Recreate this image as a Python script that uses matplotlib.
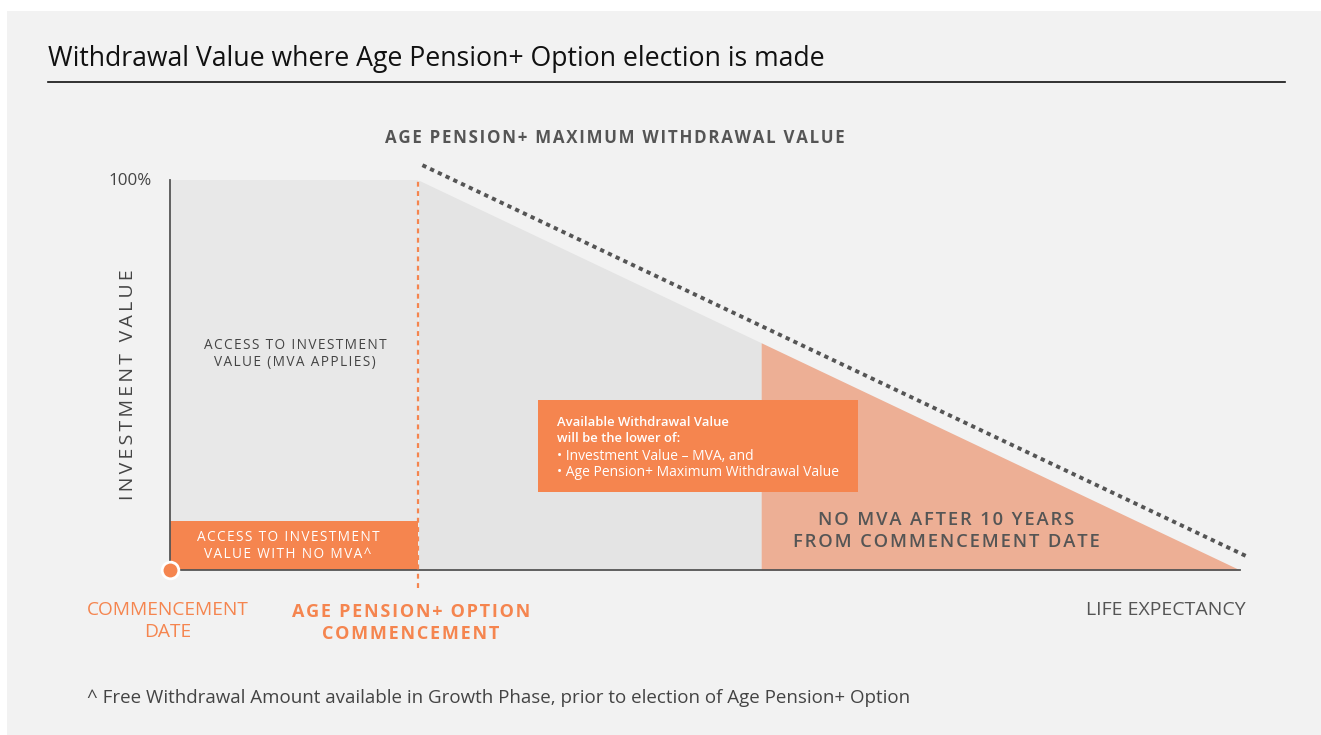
"""
Withdrawal Value where Age Pension+ Option election is made -- schematic chart.
"""

import matplotlib

matplotlib.use("Agg")
import matplotlib.pyplot as plt
from matplotlib.patches import Rectangle

plt.rcParams["font.family"] = ["Open Sans", "DejaVu Sans"]

W, H = 1321, 735

# time axis (years from commencement date)
COMMENCEMENT = 0.0
OPTION_START = 4.2
NO_MVA_FROM = 10.0
LIFE_EXPECTANCY = 18.1

# investment value (% of starting value)
VALUE_MAX = 100.0
NO_MVA_BAND = 12.6

# age pension+ maximum withdrawal value (dotted line)
MAX_WD_X = [4.27, 18.2]
MAX_WD_Y = [103.8, 3.6]

ORANGE = "#f5854f"
SALMON = "#edaf95"
PANEL = "#f2f2f2"
GREY_TXT = "#555555"
DARK_TXT = "#444444"


def fx(px):
    return px / W


def fy(py):
    return 1 - py / H


def spaced(s, gap="\u200a"):
    return "\n".join(gap.join(line) for line in s.split("\n"))


def triangle_top(x):
    # straight run-down from 100% at option start to 0% at life expectancy
    return VALUE_MAX * (LIFE_EXPECTANCY - x) / (LIFE_EXPECTANCY - OPTION_START)


fig = plt.figure(figsize=(W / 100, H / 100), dpi=100, facecolor="white")

# grey panel
fig.patches.append(
    Rectangle((fx(7), 0), 1 - fx(7), fy(11), transform=fig.transFigure,
              facecolor=PANEL, edgecolor="none", zorder=-5)
)

# title + rule
fig.text(fx(48), fy(59), "Withdrawal Value where Age Pension+ Option election is made",
         fontsize=19.2, color="#111111", va="center", ha="left")
fig.add_artist(plt.Line2D([fx(48), fx(1285)], [fy(82), fy(82)], color="#111111", lw=1.2))

ax = fig.add_axes([fx(170), fy(570), fx(1240) - fx(170), (570 - 180) / H])
ax.set_xlim(COMMENCEMENT, LIFE_EXPECTANCY)
ax.set_ylim(0, VALUE_MAX)
ax.axis("off")

# access with MVA (before option start)
ax.fill_between([COMMENCEMENT, OPTION_START], 0, VALUE_MAX, color="#e8e8e8", lw=0, zorder=1)
# no-MVA band
ax.fill_between([COMMENCEMENT, OPTION_START], 0, NO_MVA_BAND, color=ORANGE, lw=0, zorder=2)

# run-down triangle after option start
xs = [OPTION_START, NO_MVA_FROM]
ax.fill_between(xs, 0, [triangle_top(x) for x in xs], color="#e4e4e4", lw=0, zorder=1)
xs = [NO_MVA_FROM, LIFE_EXPECTANCY]
ax.fill_between(xs, 0, [triangle_top(x) for x in xs], color=SALMON, lw=0, zorder=1)

# axes lines
ax.plot([COMMENCEMENT, COMMENCEMENT], [0, VALUE_MAX], color="#555555", lw=1.3, zorder=3,
        clip_on=False)
ax.plot([COMMENCEMENT, LIFE_EXPECTANCY], [0, 0], color="#555555", lw=1.3, zorder=3,
        clip_on=False)

# max withdrawal value (dotted)
ax.plot(MAX_WD_X, MAX_WD_Y, color="#555555", lw=2.8, linestyle=(0, (1.1, 1.1)),
        zorder=4, clip_on=False)

# option commencement marker
ax.plot([OPTION_START, OPTION_START], [-4.6, VALUE_MAX], color=ORANGE, lw=1.6,
        linestyle=(0, (2.2, 2.0)), zorder=4, clip_on=False)

# commencement dot
ax.plot([COMMENCEMENT], [0], marker="o", markersize=12, color=ORANGE,
        markeredgecolor="white", markeredgewidth=2, zorder=5, clip_on=False)

# labels
fig.text(fx(615), fy(138), spaced("AGE PENSION+ MAXIMUM WITHDRAWAL VALUE"), fontsize=12.2,
         fontweight="bold", color=GREY_TXT, ha="center", va="center")
fig.text(fx(152), fy(181), "100%", fontsize=12.2, color=DARK_TXT, ha="right", va="center")
fig.text(fx(128), fy(385), spaced("INVESTMENT VALUE", "\u2009"), fontsize=14,
         color=DARK_TXT, rotation=90, ha="center", va="center")
fig.text(fx(295), fy(354), spaced("ACCESS TO INVESTMENT\nVALUE (MVA APPLIES)"),
         fontsize=9.8, color=DARK_TXT, ha="center", va="center", linespacing=1.2)
fig.text(fx(288), fy(546), spaced("ACCESS TO INVESTMENT\nVALUE WITH NO MVA^"),
         fontsize=9.8, color="white", ha="center", va="center", linespacing=1.2,
         zorder=6)
fig.text(fx(168), fy(621), "COMMENCEMENT\nDATE", fontsize=13.8, color=ORANGE,
         ha="center", va="center", linespacing=1.25)
fig.text(fx(411), fy(623), spaced("AGE PENSION+ OPTION\nCOMMENCEMENT"), fontsize=13,
         color=ORANGE, ha="center", va="center", linespacing=1.3, fontweight="bold")
fig.text(fx(1246), fy(610), "LIFE EXPECTANCY", fontsize=14, color=GREY_TXT,
         ha="right", va="center")
fig.text(fx(946), fy(531), spaced("NO MVA AFTER 10 YEARS\nFROM COMMENCEMENT DATE"),
         fontsize=13.2, color=GREY_TXT, ha="center", va="center", linespacing=1.3,
         fontweight="semibold")

# callout box
fig.patches.append(
    Rectangle((fx(538), fy(492)), fx(858) - fx(538), (492 - 400) / H,
              transform=fig.transFigure, facecolor=ORANGE, edgecolor="none", zorder=5)
)
box_lines = [
    ("Available Withdrawal Value", "semibold", 9.4),
    ("will be the lower of:", "semibold", 9.4),
    ("\u2022 Investment Value \u2013 MVA, and", "normal", 10),
    ("\u2022 Age Pension+ Maximum Withdrawal Value", "normal", 10),
]
for i, (txt, wt, fs) in enumerate(box_lines):
    fig.text(fx(557), fy(422 + 17 * i), txt, fontsize=fs, color="white", ha="left",
             va="center", fontweight=wt, zorder=6)

# footnote
fig.text(fx(87), fy(698),
         "^ Free Withdrawal Amount available in Growth Phase, prior to election of Age Pension+ Option",
         fontsize=13.5, color=DARK_TXT, ha="left", va="center")

fig.savefig("out.png", dpi=100, facecolor="white")
